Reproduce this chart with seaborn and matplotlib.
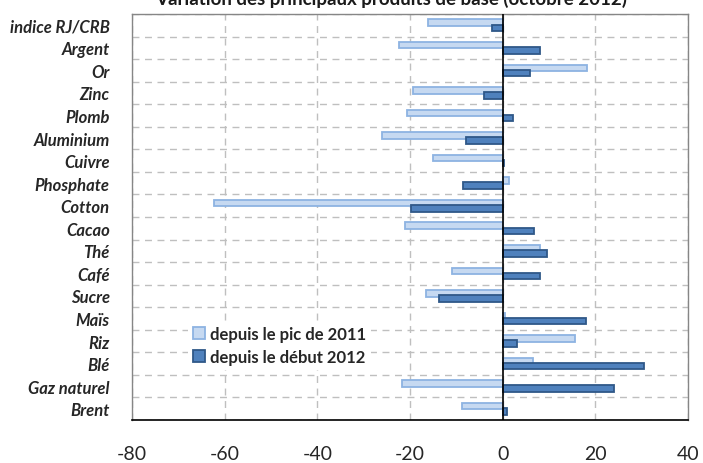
import matplotlib
matplotlib.use("Agg")
import matplotlib.pyplot as plt
import numpy as np
import pandas as pd
import seaborn as sns

""" Variation des principaux produits de base (octobre 2012) """

produits = ["indice RJ/CRB", "Argent", "Or", "Zinc", "Plomb", "Aluminium",
            "Cuivre", "Phosphate", "Cotton", "Cacao", "Thé", "Café", "Sucre",
            "Maïs", "Riz", "Blé", "Gaz naturel", "Brent"]
depuis_pic_2011 = [-16.2, -22.4, 18.2, -19.3, -20.6, -26.1, -15.0, 1.3, -62.4,
                   -21.1, 8.0, -11.0, -16.6, 0.6, 15.5, 6.5, -21.8, -8.8]
depuis_debut_2012 = [-2.4, 8.0, 5.9, -4.0, 2.2, -8.0, 0.35, -8.6, -19.7,
                     6.7, 9.6, 8.0, -13.8, 17.9, 3.1, 30.5, 24.1, 0.9]
series = ["depuis le pic de 2011", "depuis le début 2012"]
x_ticks = [-80, -60, -40, -20, 0, 20, 40]

# long format for seaborn
df = pd.DataFrame({
    "produit": produits * 2,
    "valeur": depuis_pic_2011 + depuis_debut_2012,
    "periode": [series[0]] * len(produits) + [series[1]] * len(produits),
})

light_fill, light_edge = "#c6d9f1", "#8db3e2"
dark_fill, dark_edge = "#4f81bd", "#2f5888"
grid_grey = "#bfbfbf"

sns.set_style("white")
plt.rcParams["font.family"] = ["Lato", "DejaVu Sans"]

fig = plt.figure(figsize=(7.03, 4.64), dpi=100)
ax = fig.add_axes([0.1878, 0.0927, 0.7909, 0.875])

sns.barplot(data=df, y="produit", x="valeur", hue="periode", orient="h",
            order=produits, hue_order=series, palette=[light_fill, dark_fill],
            width=0.46, linewidth=1.3, saturation=1, ax=ax)

# thicker bars that slightly overlap, each hue with its own border colour
for cont, edge in zip(ax.containers, [light_edge, dark_edge]):
    for bar in cont:
        c = bar.get_y() + bar.get_height() / 2
        bar.set_height(0.29)
        bar.set_y(c - 0.145)
        bar.set_edgecolor(edge)

ax.set_xlim(-80, 40)
ax.set_ylim(len(produits) - 0.5, -0.5)
ax.set_xticks(x_ticks)
ax.set_xticklabels([str(t) for t in x_ticks], fontsize=14)
ax.set_xlabel("")
ax.set_ylabel("")

# category labels
ax.set_yticks(range(len(produits)))
ax.set_yticklabels(produits, fontsize=12, fontweight="bold", fontstyle="italic")
ax.tick_params(axis="y", which="major", length=0, pad=16)
ax.set_yticks(np.arange(len(produits) + 1) - 0.5, minor=True)
ax.tick_params(axis="y", which="minor", direction="in", length=4, color=grid_grey)
ax.tick_params(axis="x", which="major", direction="out", length=6, width=1,
               color="black", pad=12)

# dashed grid lines
ax.set_axisbelow(True)
ax.yaxis.grid(True, which="minor", linestyle=(0, (5, 4)), color=grid_grey, linewidth=1)
ax.xaxis.grid(True, which="major", linestyle=(0, (5, 4)), color=grid_grey, linewidth=1)
ax.axvline(0, color="black", linewidth=1.2, zorder=5)

for side in ["top", "right", "left"]:
    ax.spines[side].set_color("#868686")
    ax.spines[side].set_linewidth(1)
ax.spines["bottom"].set_color("black")
ax.spines["bottom"].set_linewidth(1.2)

# legend on white background, no frame
handles, labels = ax.get_legend_handles_labels()
leg = ax.legend(handles, labels, loc="upper left", bbox_to_anchor=(0.255, 0.324),
                bbox_transform=fig.transFigure, frameon=True, fancybox=False,
                handlelength=0.75, handleheight=0.75, handletextpad=0.3,
                labelspacing=0.42, borderpad=0.3,
                prop={"size": 12, "weight": "bold"})
leg.get_frame().set_edgecolor("none")
leg.get_frame().set_facecolor("white")
leg.get_frame().set_alpha(1)
for h, edge in zip(leg.legend_handles, [light_edge, dark_edge]):
    h.set_edgecolor(edge)
    h.set_linewidth(1.3)

# title is cut at the top of the image
fig.text(0.556, 0.989, "Variation des principaux produits de base (octobre 2012)",
         ha="center", va="baseline", fontsize=13.5, fontweight="bold", color="#1a1a1a")

plt.savefig("out.png", dpi=100)
